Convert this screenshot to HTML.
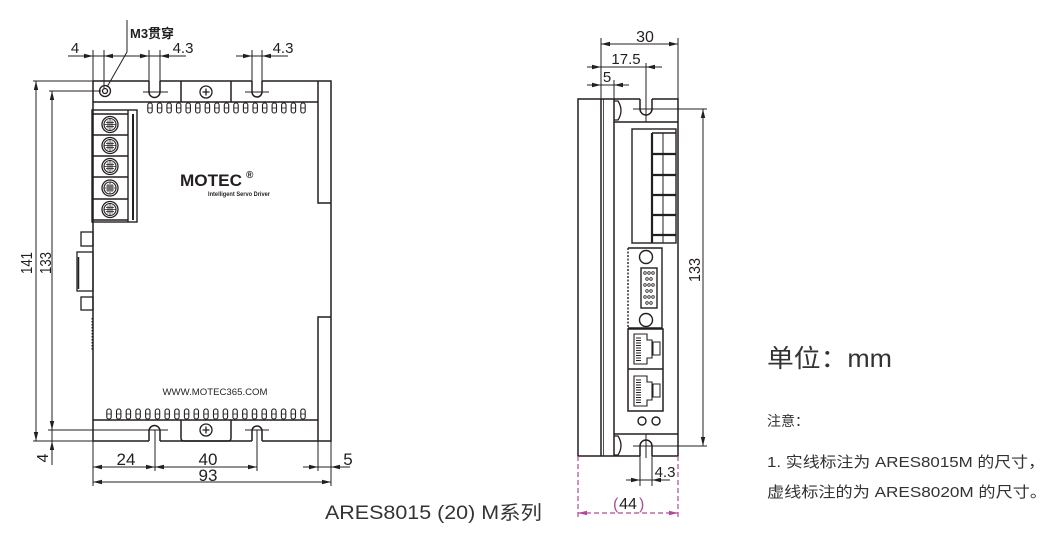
<!DOCTYPE html>
<html><head><meta charset="utf-8"><style>
html,body{margin:0;padding:0;background:#fff;}
svg{display:block;}
text{font-family:"Liberation Sans","Noto Sans CJK SC",sans-serif;fill:#231f20;}
</style></head><body>
<svg width="1058" height="539" viewBox="0 0 1058 539" xmlns="http://www.w3.org/2000/svg">
<defs>
<path id="a" d="M0,0 L-9,-2.2 L-9,2.2 Z" fill="#231f20"/>
<path id="am" d="M0,0 L-9,-2.2 L-9,2.2 Z" fill="#b04a98"/>
<g id="fin"><rect x="-2.2" y="0" width="4.4" height="10" rx="2" fill="none" stroke="#231f20" stroke-width="1.1"/><path d="M-2.2,5 H2.2" stroke="#231f20" stroke-width="0.8"/></g>
<g id="term"><circle r="8" fill="none" stroke="#231f20" stroke-width="1.3"/><circle r="6" fill="none" stroke="#231f20" stroke-width="1.1"/><path d="M-6,0 H6 M0,-6 V6 M-4,-2 H4 M-4,2 H4 M-2,-4 V4 M2,-4 V4" stroke="#231f20" stroke-width="0.8"/></g>
<g id="rj"><path d="M6,5 H19 V11 H24 V29 H19 V35 H6 Z" fill="none" stroke="#231f20" stroke-width="1.1"/><path d="M8,9 H13 M8,11.5 H13 M8,14 H13 M8,16.5 H13 M8,19 H13 M8,21.5 H13 M8,24 H13 M8,26.5 H13 M8,29 H13 M8,31.5 H13" stroke="#231f20" stroke-width="1"/><rect x="25" y="13" width="7" height="13" fill="none" stroke="#231f20" stroke-width="1"/></g>
</defs>

<!-- ================= LEFT VIEW ================= -->
<g fill="none" stroke="#231f20" stroke-width="1.5">
  <path d="M93,81 H149 M160,81 H252 M262,81 H331 V441 H262 M252,441 H160 M149,441 H93 V81"/>
  <path d="M318,81 V203 H331 M331,317 H318 V441"/>
  <path d="M93,102 H318 M93,420 H318"/>
  <path d="M149,81 V92 A5.5,5.5 0 0 0 160,92 V81"/>
  <path d="M252,81 V92 A5,5 0 0 0 262,92 V81"/>
  <path d="M149,441 V431 A5.5,5.5 0 0 1 160,431 V441"/>
  <path d="M252,441 V431 A5,5 0 0 1 262,431 V441"/>
  <path d="M181,81 V102 M231,81 V102"/>
  <path d="M181,420 V438 Q181,441 184,441 H228 Q231,441 231,438 V420"/>
</g>
<g fill="none" stroke="#231f20" stroke-width="1.3">
  <circle cx="206" cy="92" r="6"/><path d="M206,88.5 V95.5 M202.5,92 H209.5"/>
  <circle cx="206" cy="430" r="6"/><path d="M206,426.5 V433.5 M202.5,430 H209.5"/>
  <circle cx="105" cy="91" r="5.5"/><circle cx="105" cy="91" r="2.5"/>
</g>
<!-- connectors on left side -->
<g fill="none" stroke="#231f20" stroke-width="1.3">
  <rect x="81" y="232" width="12" height="14"/>
  <rect x="77" y="252" width="16" height="39"/>
  <path d="M78.5,257 V289" stroke-width="1.5"/>
  <rect x="81" y="297" width="12" height="13"/>
  <path d="M92,318 V350" stroke-dasharray="1.5,1.5" stroke-width="1"/>
</g>
<!-- terminal block -->
<g fill="none" stroke="#231f20" stroke-width="1.4">
  <rect x="92" y="110" width="45" height="112"/>
  <path d="M128,110 V222"/>
  <path d="M133,114 V220" stroke-width="2"/>
  <path d="M92,114 H128 M92,135 H128 M92,156 H128 M92,177 H128 M92,199 H128 M92,220 H128"/>
</g>
<use href="#term" x="110" y="124.5"/>
<use href="#term" x="110" y="145.5"/>
<use href="#term" x="110" y="166.5"/>
<use href="#term" x="110" y="188"/>
<use href="#term" x="110" y="209.5"/>
<!-- fins top -->
<g transform="translate(0,103)">
<use href="#fin" x="150"/><use href="#fin" x="159.6"/><use href="#fin" x="169.1"/><use href="#fin" x="178.7"/><use href="#fin" x="188.2"/><use href="#fin" x="197.8"/><use href="#fin" x="207.4"/><use href="#fin" x="216.9"/><use href="#fin" x="226.5"/><use href="#fin" x="236"/><use href="#fin" x="245.6"/><use href="#fin" x="255.2"/><use href="#fin" x="264.7"/><use href="#fin" x="274.3"/><use href="#fin" x="283.8"/><use href="#fin" x="293.4"/><use href="#fin" x="303"/>
</g>
<!-- fins bottom -->
<g transform="translate(0,409)">
<use href="#fin" x="109"/><use href="#fin" x="118.7"/><use href="#fin" x="128.4"/><use href="#fin" x="138.1"/><use href="#fin" x="147.8"/><use href="#fin" x="157.5"/><use href="#fin" x="167.2"/><use href="#fin" x="176.9"/><use href="#fin" x="186.6"/><use href="#fin" x="196.3"/><use href="#fin" x="206"/><use href="#fin" x="215.7"/><use href="#fin" x="225.4"/><use href="#fin" x="235.1"/><use href="#fin" x="244.8"/><use href="#fin" x="254.5"/><use href="#fin" x="264.2"/><use href="#fin" x="273.9"/><use href="#fin" x="283.6"/><use href="#fin" x="293.3"/><use href="#fin" x="303"/>
</g>
<!-- logo -->
<text x="180" y="186" font-size="17" font-weight="bold" textLength="62" lengthAdjust="spacingAndGlyphs">MOTEC</text>
<text x="246" y="178" font-size="10" font-weight="bold">®</text>
<text x="208" y="196" font-size="6" font-weight="bold" textLength="62" lengthAdjust="spacingAndGlyphs">Intelligent Servo Driver</text>
<text x="215" y="395" font-size="9.5" text-anchor="middle" textLength="105" lengthAdjust="spacingAndGlyphs">WWW.MOTEC365.COM</text>

<!-- left view dimensions -->
<g fill="none" stroke="#231f20" stroke-width="1">
  <path d="M93,50 V81 M104,50 V88 M149,50 V81 M160,50 V81 M252,50 V81 M262,50 V81"/>
  <path d="M68,56 H120 M115,56 H186 M236,56 H288"/>
  <path d="M127,20 V52 L107,87"/>
  <path d="M33,81 H93 M33,441 H93 M49,91 H101 M48,430 H168 M143,92 H168 M245,92 H269 M245,430 H269"/>
  <path d="M36,81 V441 M52,91 V465"/>
  <path d="M93,441 V486 M155,430 V471 M257,430 V471 M318,441 V471 M331,441 V486"/>
  <path d="M93,467 H257 M303,467 H350 M93,482 H331"/>
</g>
<use href="#a" transform="translate(93,56)"/>
<use href="#a" transform="translate(104,56) rotate(180)"/>
<use href="#a" transform="translate(149,56)"/>
<use href="#a" transform="translate(160,56) rotate(180)"/>
<use href="#a" transform="translate(252,56)"/>
<use href="#a" transform="translate(262,56) rotate(180)"/>
<use href="#a" transform="translate(36,81) rotate(-90)"/>
<use href="#a" transform="translate(36,441) rotate(90)"/>
<use href="#a" transform="translate(52,91) rotate(-90)"/>
<use href="#a" transform="translate(52,430) rotate(90)"/>
<use href="#a" transform="translate(52,441) rotate(-90)"/>
<use href="#a" transform="translate(93,467) rotate(180)"/>
<use href="#a" transform="translate(155,467)"/>
<use href="#a" transform="translate(155,467) rotate(180)"/>
<use href="#a" transform="translate(257,467)"/>
<use href="#a" transform="translate(318,467)"/>
<use href="#a" transform="translate(331,467) rotate(180)"/>
<use href="#a" transform="translate(93,482) rotate(180)"/>
<use href="#a" transform="translate(331,482)"/>

<g font-size="15">
  <text x="75" y="53" text-anchor="middle">4</text>
  <text x="183" y="53" text-anchor="middle">4.3</text>
  <text x="283" y="53" text-anchor="middle">4.3</text>
  <text x="130" y="38" font-size="13" font-weight="bold">M3贯穿</text>
  <text transform="translate(32,263) rotate(-90)" text-anchor="middle" font-size="16" textLength="22" lengthAdjust="spacingAndGlyphs">141</text>
  <text transform="translate(51,263) rotate(-90)" text-anchor="middle" font-size="16" textLength="22" lengthAdjust="spacingAndGlyphs">133</text>
  <text transform="translate(48,458) rotate(-90)" text-anchor="middle" font-size="16">4</text>
  <text x="126" y="465" font-size="17" text-anchor="middle">24</text>
  <text x="208" y="465" font-size="17" text-anchor="middle">40</text>
  <text x="208" y="481" font-size="17" text-anchor="middle">93</text>
  <text x="348" y="465" font-size="17" text-anchor="middle">5</text>
</g>

<!-- ================= RIGHT VIEW ================= -->
<g fill="none" stroke="#231f20" stroke-width="1.5">
  <path d="M640,99 H578 V456 H640 M652,456 H678 V99 H652"/>
  <path d="M601,99 V456 M614,99 V456"/>
  <path d="M603.5,99 V456" stroke-width="0.8"/>
  <path d="M614,122 H678 M614,434 H678"/>
  <path d="M640,99 V109 A6,6 0 0 0 652,109 V99"/>
  <path d="M640,456 V446 A6,6 0 0 1 652,446 V456"/>
  <path d="M614,101 H618 Q624,110.5 618,120 H614" stroke-width="1.3"/>
  <path d="M614,436 H618 Q624,445.5 618,455 H614" stroke-width="1.3"/>
</g>
<!-- terminal block right -->
<g fill="none" stroke="#231f20" stroke-width="1.4">
  <rect x="632" y="129" width="44" height="114"/>
  <path d="M652,133 V243" stroke-width="2.2"/>
  <path d="M663,133 V243" stroke-width="1"/>
  <path d="M652,133 H676"/>
  <path d="M652,154 H676 M652,175 H676 M652,195 H676 M652,215 H676 M652,235 H676" stroke-width="2.2"/>
</g>
<!-- DB module -->
<g fill="none" stroke="#231f20" stroke-width="1.4">
  <path d="M628,248 H662 V328 H628"/>
  <path d="M628,248 V328" stroke-dasharray="2,1.5"/>
  <circle cx="646" cy="257" r="6.5"/>
  <circle cx="646" cy="320" r="6.5"/>
  <rect x="641" y="268" width="16" height="40"/>
</g>
<g fill="none" stroke="#231f20" stroke-width="0.8">
  <circle cx="645" cy="273" r="1.3"/><circle cx="649" cy="273" r="1.3"/><circle cx="653" cy="273" r="1.3"/>
  <circle cx="647" cy="279" r="1.3"/><circle cx="651" cy="279" r="1.3"/>
  <circle cx="645" cy="285" r="1.3"/><circle cx="649" cy="285" r="1.3"/><circle cx="653" cy="285" r="1.3"/>
  <circle cx="647" cy="291" r="1.3"/><circle cx="651" cy="291" r="1.3"/>
  <circle cx="645" cy="297" r="1.3"/><circle cx="649" cy="297" r="1.3"/><circle cx="653" cy="297" r="1.3"/>
  <circle cx="647" cy="303" r="1.3"/><circle cx="651" cy="303" r="1.3"/>
</g>
<!-- RJ45 -->
<g fill="none" stroke="#231f20" stroke-width="1.5">
  <rect x="628" y="329" width="35" height="82"/>
  <path d="M628,369 H663"/>
</g>
<use href="#rj" x="628" y="329"/>
<use href="#rj" x="628" y="371"/>
<g fill="none" stroke="#231f20" stroke-width="1.4">
  <circle cx="642" cy="421" r="4"/><circle cx="656" cy="421" r="4"/>
</g>

<!-- right view dims -->
<g fill="none" stroke="#231f20" stroke-width="1">
  <path d="M601,38 V99 M678,38 V99 M646,63 V122 M614,80 V99"/>
  <path d="M601,44 H678 M587,67 H662 M587,85 H629"/>
  <path d="M633,109 H707 M633,446 H707 M703,109 V446 M646,434 V458"/>
  <path d="M640,456 V486 M652,456 V486 M626,480 H670"/>
</g>
<use href="#a" transform="translate(601,44) rotate(180)"/>
<use href="#a" transform="translate(678,44)"/>
<use href="#a" transform="translate(601,67)"/>
<use href="#a" transform="translate(646,67) rotate(180)"/>
<use href="#a" transform="translate(601,85)"/>
<use href="#a" transform="translate(614,85) rotate(180)"/>
<use href="#a" transform="translate(703,109) rotate(-90)"/>
<use href="#a" transform="translate(703,446) rotate(90)"/>
<use href="#a" transform="translate(640,480)"/>
<use href="#a" transform="translate(652,480) rotate(180)"/>
<g font-size="15">
  <text x="645" y="42" text-anchor="middle" font-size="16">30</text>
  <text x="626" y="64" text-anchor="middle" font-size="15">17.5</text>
  <text x="607" y="82" text-anchor="middle" font-size="15">5</text>
  <text transform="translate(700,270) rotate(-90)" text-anchor="middle" font-size="16" textLength="24" lengthAdjust="spacingAndGlyphs">133</text>
  <text x="665" y="477" text-anchor="middle" font-size="15">4.3</text>
</g>
<!-- magenta dashed 44 -->
<g fill="none" stroke="#b04a98" stroke-width="1.2" stroke-dasharray="5,3">
  <path d="M578,456 V520 M678,456 V520 M578,513 H678"/>
</g>
<use href="#am" transform="translate(578,513) rotate(180)"/>
<use href="#am" transform="translate(678,513)"/>
<text x="613" y="509" font-size="16" style="fill:#b04a98">(</text>
<text x="628" y="509" font-size="16" text-anchor="middle">44</text>
<text x="639" y="509" font-size="16" style="fill:#b04a98">)</text>

<!-- captions -->
<text x="325" y="519" font-size="19" textLength="217" lengthAdjust="spacingAndGlyphs" style="fill:#333">ARES8015 (20) M系列</text>
<text x="767" y="367" font-size="25" textLength="125" lengthAdjust="spacingAndGlyphs" style="fill:#333">单位：mm</text>
<text x="767" y="426" font-size="14" style="fill:#333">注意：</text>
<text x="767" y="467" font-size="15" textLength="278" lengthAdjust="spacingAndGlyphs" style="fill:#333">1. 实线标注为 ARES8015M 的尺寸，</text>
<text x="767" y="497" font-size="15" textLength="280" lengthAdjust="spacingAndGlyphs" style="fill:#333">虚线标注的为 ARES8020M 的尺寸。</text>
</svg>
</body></html>
